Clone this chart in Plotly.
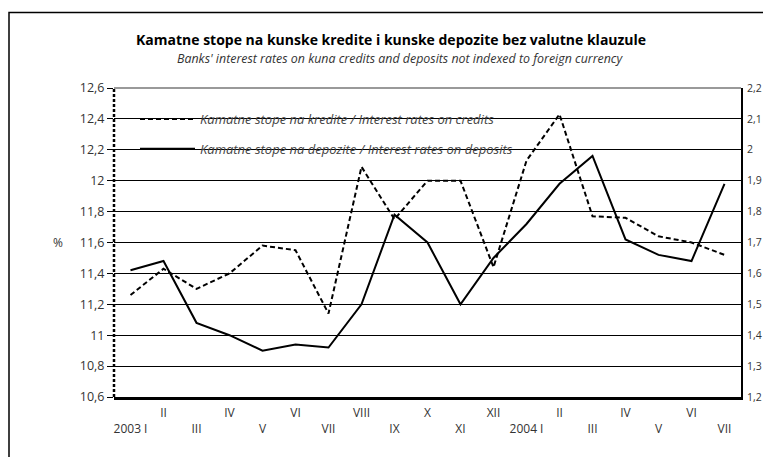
import plotly.graph_objects as go

months = ["2003 I", "II", "III", "IV", "V", "VI", "VII", "VIII", "IX", "X", "XI", "XII",
          "2004 I", "II", "III", "IV", "V", "VI", "VII"]
credits = [11.26, 11.43, 11.30, 11.40, 11.58, 11.55, 11.14, 12.09, 11.75, 12.00, 12.00, 11.44,
           12.13, 12.43, 11.77, 11.76, 11.64, 11.60, 11.52]
deposits = [1.61, 1.64, 1.44, 1.40, 1.35, 1.37, 1.36, 1.50, 1.79, 1.70, 1.50, 1.65,
            1.76, 1.89, 1.98, 1.71, 1.66, 1.64, 1.89]
left_ticks = [10.6, 10.8, 11.0, 11.2, 11.4, 11.6, 11.8, 12.0, 12.2, 12.4, 12.6]
right_ticks = [1.2, 1.3, 1.4, 1.5, 1.6, 1.7, 1.8, 1.9, 2.0, 2.1, 2.2]

xs = list(range(len(months)))
ticktext = [m if i % 2 == 1 else "<br>" + m for i, m in enumerate(months)]

FONT = "Open Sans"
OFF = 8  # page body margin
W, H = 771 - OFF, 457 - OFF
L, R, T, B = 114 - OFF, 741 - OFF, 88 - OFF, 397 - OFF

fig = go.Figure()
fig.add_trace(go.Scatter(
    x=xs, y=credits, mode="lines", name="Kamatne stope na kredite / Interest rates on credits",
    line=dict(color="black", width=2, dash="5px,3px"), legendgroup="a", yaxis="y"))
fig.add_trace(go.Scatter(
    x=xs, y=deposits, mode="lines", name="Kamatne stope na depozite / Interest rates on deposits",
    line=dict(color="black", width=2), legendgroup="b", yaxis="y2"))

def px(xp):
    return (xp - OFF - L) / (R - L)

def py(yp):
    return (B - (yp - OFF)) / (B - T)

fig.update_layout(
    width=W, height=H,
    margin=dict(l=L, r=W - R, t=T, b=H - B, autoexpand=False),
    paper_bgcolor="white", plot_bgcolor="white",
    separators=", ",
    font=dict(family=FONT, color="#333", size=12),
    showlegend=True,
    legend=dict(x=px(135), y=py(104), xanchor="left", yanchor="top",
                bgcolor="rgba(0,0,0,0)", tracegroupgap=10,
                font=dict(family=FONT, size=13, color="#444", style="italic"),
                itemwidth=55),
    xaxis=dict(range=[-0.5, len(months) - 0.5], tickvals=xs, ticktext=ticktext,
               showgrid=False, zeroline=False, showline=True, linecolor="black", linewidth=3,
               ticks="", ticklabelstandoff=3, tickfont=dict(size=12, color="#333"),
               fixedrange=True, automargin=False),
    yaxis=dict(range=[left_ticks[0], left_ticks[-1]], tickvals=left_ticks,
               showgrid=True, gridcolor="black", gridwidth=1, zeroline=False,
               showline=False, ticks="outside", ticklen=6, tickcolor="black",
               tickfont=dict(size=12.5, color="#333"), automargin=False),
    yaxis2=dict(range=[right_ticks[0], right_ticks[-1]], tickvals=right_ticks,
                overlaying="y", side="right", showgrid=False, zeroline=False,
                showline=True, linecolor="black", linewidth=2, ticks="",
                ticklabelstandoff=2, tickfont=dict(size=10.5, color="#333"),
                automargin=False),
    shapes=[
        dict(type="line", xref="paper", yref="paper", x0=0, x1=0, y0=0, y1=1,
             line=dict(color="black", width=2.5, dash="3px,2px")),
        dict(type="line", xref="paper", yref="paper", x0=0, x1=1, y0=1, y1=1,
             line=dict(color="#777", width=1.5)),
        dict(type="rect", xref="paper", yref="paper", x0=px(9), x1=px(800), y0=py(490), y1=py(12.5),
             line=dict(color="black", width=1.5), layer="below"),
    ],
    annotations=[
        dict(text="<b>Kamatne stope na kunske kredite i kunske depozite bez valutne klauzule</b>",
             xref="paper", yref="paper", x=px(391), y=py(39), showarrow=False,
             font=dict(family=FONT, size=14, color="black"), xanchor="center", yanchor="middle"),
        dict(text="<i>Banks' interest rates on kuna credits and deposits not indexed to foreign currency</i>",
             xref="paper", yref="paper", x=px(400), y=py(58), showarrow=False,
             font=dict(family=FONT, size=12.4, color="#333"), xanchor="center", yanchor="middle"),
        dict(text="%", xref="paper", yref="paper", x=px(51), y=py(243), showarrow=False,
             font=dict(family=FONT, size=12, color="#333")),
    ],
)

fig.write_html("out.html")
